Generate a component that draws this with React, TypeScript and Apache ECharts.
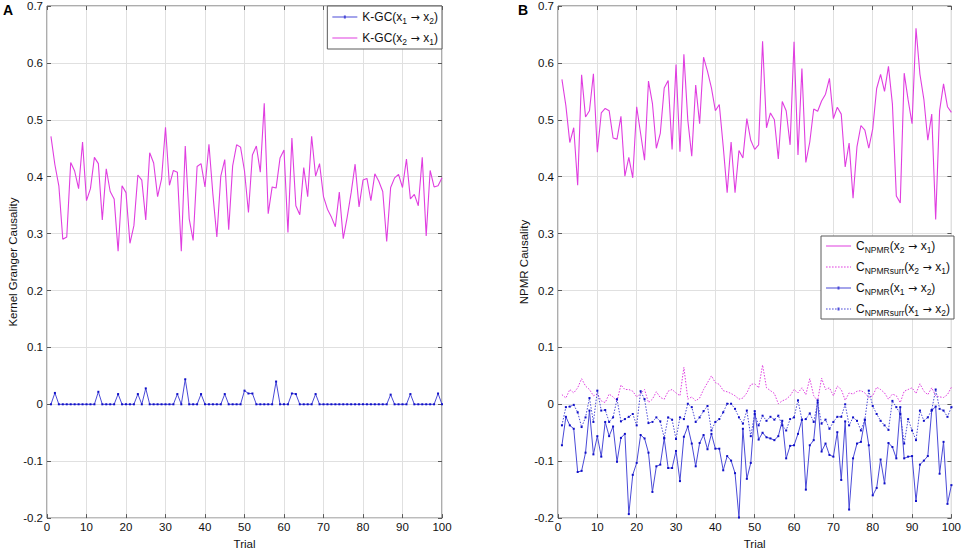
import React, { useEffect, useRef } from "react";
import * as echarts from "echarts";

// ---------------- data ----------------
const trials: number[] = Array.from({ length: 100 }, (_, i) => i + 1);

const xTicks = [0, 10, 20, 30, 40, 50, 60, 70, 80, 90, 100];

// Panel A: K-GC(x1 -> x2)
const kgc12 = [
  0, 0.02, 0, 0, 0, 0, 0, 0, 0, 0,
  0, 0, 0.022, 0, 0, 0, 0, 0.018, 0, 0,
  0, 0, 0.018, 0, 0.028, 0, 0, 0, 0, 0,
  0, 0, 0.018, 0, 0.044, 0, 0, 0, 0.018, 0,
  0, 0, 0, 0, 0.018, 0, 0, 0, 0, 0.024,
  0.019, 0.019, 0, 0, 0, 0, 0, 0.04, 0, 0,
  0, 0.019, 0.018, 0, 0, 0, 0, 0.018, 0, 0,
  0, 0, 0, 0, 0, 0, 0, 0, 0, 0,
  0, 0, 0, 0, 0, 0, 0.017, 0, 0, 0,
  0, 0.018, 0, 0, 0, 0, 0, 0, 0.019, 0,
];

// Panel A: K-GC(x2 -> x1)
const kgc21 = [
  0.471, 0.421, 0.384, 0.29, 0.294, 0.425, 0.41, 0.379, 0.461, 0.358,
  0.379, 0.434, 0.423, 0.324, 0.414, 0.374, 0.361, 0.269, 0.384, 0.372,
  0.283, 0.314, 0.403, 0.394, 0.324, 0.442, 0.424, 0.365, 0.396, 0.487,
  0.385, 0.411, 0.408, 0.269, 0.454, 0.326, 0.288, 0.418, 0.423, 0.382,
  0.457, 0.369, 0.294, 0.401, 0.43, 0.307, 0.419, 0.456, 0.452, 0.41,
  0.337, 0.438, 0.454, 0.408, 0.529, 0.335, 0.382, 0.38, 0.433, 0.447,
  0.302, 0.468, 0.349, 0.333, 0.416, 0.365, 0.471, 0.401, 0.423, 0.365,
  0.343, 0.329, 0.312, 0.373, 0.291, 0.329, 0.372, 0.422, 0.347, 0.394,
  0.397, 0.358, 0.405, 0.392, 0.374, 0.286, 0.381, 0.398, 0.404, 0.381,
  0.431, 0.361, 0.369, 0.349, 0.434, 0.296, 0.411, 0.382, 0.384, 0.398,
];

// Panel B: C_NPMR(x2 -> x1)
const npmr21 = [
  0.571, 0.525, 0.46, 0.486, 0.385, 0.579, 0.505, 0.516, 0.581, 0.443,
  0.512, 0.52, 0.516, 0.468, 0.466, 0.506, 0.401, 0.434, 0.398, 0.523,
  0.476, 0.429, 0.568, 0.529, 0.45, 0.476, 0.556, 0.569, 0.448, 0.597,
  0.444, 0.615, 0.499, 0.436, 0.561, 0.493, 0.61, 0.585, 0.556, 0.516,
  0.527, 0.453, 0.372, 0.461, 0.372, 0.446, 0.433, 0.502, 0.464, 0.448,
  0.456, 0.638, 0.486, 0.512, 0.5, 0.431, 0.532, 0.516, 0.456, 0.637,
  0.438, 0.59, 0.425, 0.461, 0.519, 0.515, 0.533, 0.545, 0.573, 0.502,
  0.522, 0.51, 0.417, 0.459, 0.362, 0.453, 0.49, 0.482, 0.45, 0.484,
  0.555, 0.58, 0.55, 0.594, 0.528, 0.366, 0.354, 0.582, 0.535, 0.493,
  0.661, 0.58, 0.536, 0.464, 0.51, 0.325, 0.516, 0.563, 0.523, 0.513,
];

// Panel B: C_NPMRsurr(x2 -> x1)
const npmrSurr21 = [
  0.017, 0.011, 0.026, 0.02, 0.029, 0.045, 0.032, 0.026, 0.015, 0.018,
  0.006, 0.003, 0.018, 0.013, 0.006, 0.034, 0.026, 0.026, 0.023, 0.013,
  0.019, 0.026, 0.003, 0.009, 0.022, 0.012, 0.009, 0.023, 0.026, 0.02,
  0.015, 0.065, 0.009, 0.013, 0.006, 0.011, 0.026, 0.038, 0.05, 0.038,
  0.035, 0.024, 0.022, 0.019, 0.015, 0.009, 0.011, 0.02, 0.035, 0.036,
  0.029, 0.069, 0.029, 0.024, 0.019, 0.001, 0.006, 0.009, 0.015, 0.026,
  0.02, 0.029, 0.017, 0.045, 0.015, 0.006, 0.046, 0.026, 0.029, 0.015,
  0.032, 0.026, 0.007, 0.02, 0.018, 0.023, 0.024, 0.02, 0.012, 0.015,
  0.03, 0.026, 0.02, 0.009, 0.018, 0.015, 0.003, 0.023, 0.026, 0.029,
  0.019, 0.036, 0.023, 0.017, 0.029, 0.015, 0.013, 0.012, 0.017, 0.03,
];

// Panel B: C_NPMR(x1 -> x2)
const npmr12 = [
  -0.072, -0.022, -0.037, -0.043, -0.119, -0.117, -0.085, -0.011, -0.088, -0.056,
  -0.092, -0.031, -0.056, -0.039, -0.101, -0.059, -0.052, -0.193, -0.124, -0.103,
  -0.054, -0.06, -0.085, -0.154, -0.109, -0.106, -0.06, -0.112, -0.112, -0.082,
  -0.135, -0.057, -0.039, -0.069, -0.109, -0.068, -0.054, -0.079, -0.052, -0.078,
  -0.078, -0.116, -0.091, -0.099, -0.121, -0.199, -0.043, -0.131, -0.103, -0.012,
  -0.062, -0.05, -0.058, -0.06, -0.063, -0.056, -0.029, -0.095, -0.073, -0.072,
  -0.052, -0.027, -0.15, -0.072, -0.063, 0.007, -0.083, -0.069, -0.089, -0.092,
  -0.049, -0.133, -0.03, -0.185, -0.095, -0.069, -0.066, -0.027, -0.072, -0.16,
  -0.147, -0.097, -0.139, -0.068, -0.075, -0.095, -0.005, -0.095, -0.092, -0.091,
  -0.17, -0.106, -0.099, -0.091, -0.011, -0.004, -0.122, -0.066, -0.175, -0.142,
];

// Panel B: C_NPMRsurr(x1 -> x2)
const npmrSurr12 = [
  -0.037, -0.005, -0.004, -0.001, -0.014, -0.04, -0.023, 0.011, -0.031, 0.024,
  -0.011, -0.01, -0.031, -0.023, 0.009, -0.03, -0.026, -0.022, -0.017, -0.037,
  0.023, 0.009, -0.033, -0.031, -0.023, -0.03, -0.059, -0.023, -0.027, -0.061,
  -0.023, -0.026, 0.001, -0.005, -0.031, -0.023, -0.012, -0.003, -0.046, -0.031,
  -0.026, -0.014, 0.001, 0.001, -0.008, -0.023, -0.034, -0.011, -0.056, -0.017,
  -0.037, -0.02, -0.029, -0.022, -0.027, -0.02, -0.037, -0.046, -0.026, -0.023,
  0.007, -0.027, -0.026, -0.016, -0.031, 0.003, -0.034, -0.027, -0.043, -0.031,
  -0.022, -0.022, 0.0, -0.037, -0.023, -0.029, -0.046, -0.027, 0.024, -0.003,
  -0.017, -0.029, -0.037, -0.045, 0.006, -0.005, -0.017, -0.069, -0.026, -0.046,
  -0.063, -0.011, -0.029, -0.023, -0.01, 0.026, -0.008, -0.011, -0.022, -0.005,
];

const seriesNames = {
  a12: "K-GC(x1 → x2)",
  a21: "K-GC(x2 → x1)",
  b21: "C_NPMR(x2 → x1)",
  bs21: "C_NPMRsurr(x2 → x1)",
  b12: "C_NPMR(x1 → x2)",
  bs12: "C_NPMRsurr(x1 → x2)",
};

const legendLabels: Record<string, string> = {
  [seriesNames.a12]: "{t|K-GC(x}{s|1}{a| → }{t|x}{s|2}{t|)}",
  [seriesNames.a21]: "{t|K-GC(x}{s|2}{a| → }{t|x}{s|1}{t|)}",
  [seriesNames.b21]: "{t|C}{s|NPMR}{t|(x}{s|2}{a| → }{t|x}{s|1}{t|)}",
  [seriesNames.bs21]: "{t|C}{s|NPMRsurr}{t|(x}{s|2}{a| → }{t|x}{s|1}{t|)}",
  [seriesNames.b12]: "{t|C}{s|NPMR}{t|(x}{s|1}{a| → }{t|x}{s|2}{t|)}",
  [seriesNames.bs12]: "{t|C}{s|NPMRsurr}{t|(x}{s|1}{a| → }{t|x}{s|2}{t|)}",
};

// ---------------- styles ----------------
const FONT = "Liberation Sans, Arial, sans-serif";
const MAGENTA = "#e03ee0";
const BLUE_LINE = "#4a4ad8";
const BLUE_MARK = "#1010c8";
const GRID_COLOR = "#e0e0e0";
const BOX_COLOR = "#5a5a5a";

const toPairs = (vals: number[]) => trials.map((t, i) => [t, vals[i]]);

function dashedIcon(withMarker: boolean): string {
  let d = "path://";
  for (let x = 0; x < 25; x += 3) {
    const w = Math.min(1.6, 25 - x);
    d += `M${x},1h${w}v1h-${w}z`;
  }
  if (withMarker) d += "M11.5,0h2v3h-2z";
  else d += "M0,0h0.01v3h-0.01z";
  return d;
}
const solidIcon = "path://M0,1h25v1h-25zM0,0h0.01v3h-0.01z";
const solidMarkerIcon = "path://M0,1h25v1h-25zM11.5,0h2v3h-2z";

function App() {
  const ref = useRef<HTMLDivElement>(null);

  useEffect(() => {
    if (!ref.current) return;
    const chart = echarts.init(ref.current, undefined, { renderer: "svg" });

    const yFmt = (v: number) => {
      const r = Math.round(v * 10) / 10;
      return r === 0 ? "0" : r.toFixed(1);
    };

    const grids = [
      { left: 47, top: 6, width: 395, height: 520 },
      { left: 558, top: 6, width: 396, height: 520 },
    ].map((g) => ({
      ...g,
      show: true,
      borderColor: BOX_COLOR,
      borderWidth: 1,
      backgroundColor: "#ffffff",
    }));

    const tickStyle = { inside: true, length: 4, lineStyle: { color: BOX_COLOR } };
    const labelStyle = { color: "#111", fontFamily: FONT, fontSize: 11.5 };
    const noLine = { show: false, onZero: false };

    const mainX = (gridIndex: number) => ({
      type: "value",
      gridIndex,
      min: xTicks[0],
      max: xTicks[xTicks.length - 1],
      interval: 10,
      position: "bottom",
      name: "Trial",
      nameLocation: "middle",
      nameGap: 14,
      nameTextStyle: { color: "#111", fontFamily: FONT, fontSize: 11.5 },
      axisLine: noLine,
      axisTick: tickStyle,
      axisLabel: { ...labelStyle, margin: 3 },
      splitLine: { show: true, lineStyle: { color: GRID_COLOR, width: 1 } },
    });
    const topX = (gridIndex: number) => ({
      type: "value",
      gridIndex,
      min: 0,
      max: 100,
      interval: 10,
      position: "top",
      axisLine: noLine,
      axisTick: tickStyle,
      axisLabel: { show: false },
      splitLine: { show: false },
    });
    const mainY = (gridIndex: number, name: string) => ({
      type: "value",
      gridIndex,
      min: -0.2,
      max: 0.7,
      interval: 0.1,
      position: "left",
      name,
      nameLocation: "middle",
      nameGap: 25,
      nameTextStyle: { color: "#111", fontFamily: FONT, fontSize: 11.5 },
      axisLine: noLine,
      axisTick: tickStyle,
      axisLabel: { ...labelStyle, margin: 4, formatter: yFmt },
      splitLine: { show: true, lineStyle: { color: GRID_COLOR, width: 1 } },
    });
    const rightY = (gridIndex: number) => ({
      type: "value",
      gridIndex,
      min: -0.2,
      max: 0.7,
      interval: 0.1,
      position: "right",
      axisLine: noLine,
      axisTick: tickStyle,
      axisLabel: { show: false },
      splitLine: { show: false },
    });

    const legendText = {
      color: "#111",
      fontFamily: FONT,
      fontSize: 12,
      rich: {
        t: { fontSize: 12, fontFamily: FONT, color: "#111", lineHeight: 16 },
        a: { fontSize: 11, fontFamily: "DejaVu Sans", color: "#111", lineHeight: 16 },
        s: { fontSize: 8.5, fontFamily: FONT, color: "#111", lineHeight: 16, padding: [7, 0, 0, 0] },
      },
    };
    const legendBase = {
      orient: "vertical",
      selectedMode: false,
      itemWidth: 25,
      itemHeight: 10,
      borderColor: BOX_COLOR,
      borderWidth: 1,
      backgroundColor: "#ffffff",
      textStyle: legendText,
      formatter: (name: string) => legendLabels[name] || name,
    };

    const option: any = {
      animation: false,
      backgroundColor: "#ffffff",
      grid: grids,
      xAxis: [mainX(0), topX(0), mainX(1), topX(1)],
      yAxis: [
        mainY(0, "Kernel Granger Causality"),
        rightY(0),
        mainY(1, "NPMR Causality"),
        rightY(1),
      ],
      legend: [
        {
          ...legendBase,
          right: 964 - 442,
          top: 6,
          padding: [3, 4, 3, 5],
          itemGap: 5,
          data: [
            { name: seriesNames.a12, icon: solidMarkerIcon, itemStyle: { color: BLUE_LINE } },
            { name: seriesNames.a21, icon: solidIcon, itemStyle: { color: MAGENTA } },
          ],
        },
        {
          ...legendBase,
          right: 964 - 954,
          top: 236,
          padding: [2, 4, 2, 5],
          itemGap: 5,
          data: [
            { name: seriesNames.b21, icon: solidIcon, itemStyle: { color: MAGENTA } },
            { name: seriesNames.bs21, icon: dashedIcon(false), itemStyle: { color: MAGENTA } },
            { name: seriesNames.b12, icon: solidMarkerIcon, itemStyle: { color: BLUE_LINE } },
            { name: seriesNames.bs12, icon: dashedIcon(true), itemStyle: { color: BLUE_LINE } },
          ],
        },
      ],
      graphic: [
        {
          type: "text",
          left: 3,
          top: 3,
          style: { text: "A", fontFamily: FONT, fontWeight: "bold", fontSize: 14, fill: "#000" },
        },
        {
          type: "text",
          left: 518,
          top: 3,
          style: { text: "B", fontFamily: FONT, fontWeight: "bold", fontSize: 14, fill: "#000" },
        },
      ],
      series: [
        {
          name: seriesNames.a21,
          type: "line",
          xAxisIndex: 0,
          yAxisIndex: 0,
          data: toPairs(kgc21),
          showSymbol: false,
          symbol: "none",
          lineStyle: { color: MAGENTA, width: 1.1 },
          itemStyle: { color: MAGENTA },
        },
        {
          name: seriesNames.a12,
          type: "line",
          xAxisIndex: 0,
          yAxisIndex: 0,
          data: toPairs(kgc12),
          symbol: "rect",
          symbolSize: 2,
          showSymbol: true,
          lineStyle: { color: BLUE_LINE, width: 1 },
          itemStyle: { color: BLUE_MARK },
        },
        {
          name: seriesNames.b21,
          type: "line",
          xAxisIndex: 2,
          yAxisIndex: 2,
          data: toPairs(npmr21),
          symbol: "none",
          showSymbol: false,
          lineStyle: { color: MAGENTA, width: 1.1 },
          itemStyle: { color: MAGENTA },
        },
        {
          name: seriesNames.bs21,
          type: "line",
          xAxisIndex: 2,
          yAxisIndex: 2,
          data: toPairs(npmrSurr21),
          symbol: "none",
          showSymbol: false,
          lineStyle: { color: MAGENTA, width: 1, type: [1.5, 1.5] },
          itemStyle: { color: MAGENTA },
        },
        {
          name: seriesNames.b12,
          type: "line",
          xAxisIndex: 2,
          yAxisIndex: 2,
          data: toPairs(npmr12),
          symbol: "rect",
          symbolSize: 2,
          showSymbol: true,
          lineStyle: { color: BLUE_LINE, width: 1 },
          itemStyle: { color: BLUE_MARK },
        },
        {
          name: seriesNames.bs12,
          type: "line",
          xAxisIndex: 2,
          yAxisIndex: 2,
          data: toPairs(npmrSurr12),
          symbol: "rect",
          symbolSize: 2,
          showSymbol: true,
          lineStyle: { color: BLUE_LINE, width: 1, type: [1.5, 1.5] },
          itemStyle: { color: BLUE_MARK },
        },
      ],
    };

    chart.setOption(option);
    return () => {
      chart.dispose();
    };
  }, []);

  return (
    <div
      ref={ref}
      style={{ position: "fixed", left: 0, top: 0, width: 964, height: 555, background: "#fff" }}
    />
  );
}

export default App;
